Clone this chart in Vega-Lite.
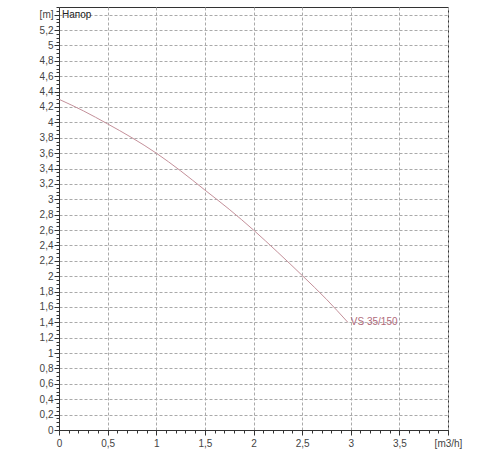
{
  "$schema": "https://vega.github.io/schema/vega-lite/v6.json",
  "width": 389,
  "height": 423,
  "autosize": "none",
  "padding": {"left": 59, "top": 7, "right": 52, "bottom": 20},
  "background": "white",
  "config": {
    "view": {"stroke": "#333", "strokeWidth": 1},
    "font": "Liberation Sans",
    "axis": {"labelFont": "Liberation Sans"}
  },
  "datasets": {
    "curve": [
      {"q": 0, "h": 4.3},
      {"q": 0.25, "h": 4.15},
      {"q": 0.5, "h": 3.98},
      {"q": 0.75, "h": 3.8},
      {"q": 1, "h": 3.6},
      {"q": 1.25, "h": 3.37},
      {"q": 1.5, "h": 3.12},
      {"q": 1.75, "h": 2.87},
      {"q": 2, "h": 2.6},
      {"q": 2.25, "h": 2.31},
      {"q": 2.5, "h": 2.01},
      {"q": 2.75, "h": 1.7},
      {"q": 2.97, "h": 1.4}
    ],
    "labels": [
      {"q": 0, "h": 5.4, "label": "Напор", "kind": "title"},
      {"q": 2.97, "h": 1.4, "label": "VS 35/150", "kind": "series"}
    ]
  },
  "layer": [
    {
      "data": {"name": "curve"},
      "mark": {"type": "line", "color": "#c4909a", "strokeWidth": 1, "interpolate": "monotone"},
      "encoding": {
        "x": {
          "field": "q", "type": "quantitative",
          "scale": {"domain": [0, 4], "nice": false, "zero": false},
          "axis": {
            "orient": "bottom", "title": null,
            "values": [0, 0.5, 1, 1.5, 2, 2.5, 3, 3.5, 4],
            "labelExpr": "datum.value >= 3.99 ? '[m3/h]' : replace(format(datum.value, '.1~f'), '.', ',')",
            "labelFontSize": 10, "labelColor": "#444", "labelPadding": 3,
            "tickSize": 5, "tickColor": "#333", "domainColor": "#333",
            "grid": true, "gridColor": "#aaa", "gridDash": [3, 2], "gridWidth": 1,
            "labelFlush": false, "labelOverlap": false
          }
        },
        "y": {
          "field": "h", "type": "quantitative",
          "scale": {"domain": [0, 5.5], "nice": false, "zero": false},
          "axis": {
            "orient": "left", "title": null,
            "values": [0, 0.2, 0.4, 0.6, 0.8, 1, 1.2, 1.4, 1.6, 1.8, 2, 2.2, 2.4, 2.6, 2.8, 3, 3.2, 3.4, 3.6, 3.8, 4, 4.2, 4.4, 4.6, 4.8, 5, 5.2, 5.4],
            "labelExpr": "datum.value > 5.35 ? '[m]' : replace(format(datum.value, '.1~f'), '.', ',')",
            "labelFontSize": 10, "labelColor": "#444", "labelPadding": 1,
            "tickSize": 5, "tickColor": "#333", "domainColor": "#333",
            "grid": true, "gridColor": "#aaa", "gridDash": [3, 2], "gridWidth": 1,
            "labelFlush": false, "labelOverlap": false
          }
        }
      }
    },
    {
      "data": {"name": "curve"},
      "mark": {"type": "line", "opacity": 0},
      "encoding": {
        "x": {
          "field": "q", "type": "quantitative",
          "scale": {"domain": [0, 4], "nice": false, "zero": false},
          "axis": {
            "orient": "bottom", "title": null, "labels": false, "grid": false, "domain": false,
            "tickSize": 3, "tickColor": "#333",
            "values": [0, 0.1, 0.2, 0.3, 0.4, 0.5, 0.6, 0.7, 0.8, 0.9, 1, 1.1, 1.2, 1.3, 1.4, 1.5, 1.6, 1.7, 1.8, 1.9, 2, 2.1, 2.2, 2.3, 2.4, 2.5, 2.6, 2.7, 2.8, 2.9, 3, 3.1, 3.2, 3.3, 3.4, 3.5, 3.6, 3.7, 3.8, 3.9, 4]
          }
        },
        "y": {
          "field": "h", "type": "quantitative",
          "scale": {"domain": [0, 5.5], "nice": false, "zero": false},
          "axis": {
            "orient": "left", "title": null, "labels": false, "grid": false, "domain": false,
            "tickSize": 3, "tickColor": "#333",
            "values": [0, 0.05, 0.1, 0.15, 0.2, 0.25, 0.3, 0.35, 0.4, 0.45, 0.5, 0.55, 0.6, 0.65, 0.7, 0.75, 0.8, 0.85, 0.9, 0.95, 1, 1.05, 1.1, 1.15, 1.2, 1.25, 1.3, 1.35, 1.4, 1.45, 1.5, 1.55, 1.6, 1.65, 1.7, 1.75, 1.8, 1.85, 1.9, 1.95, 2, 2.05, 2.1, 2.15, 2.2, 2.25, 2.3, 2.35, 2.4, 2.45, 2.5, 2.55, 2.6, 2.65, 2.7, 2.75, 2.8, 2.85, 2.9, 2.95, 3, 3.05, 3.1, 3.15, 3.2, 3.25, 3.3, 3.35, 3.4, 3.45, 3.5, 3.55, 3.6, 3.65, 3.7, 3.75, 3.8, 3.85, 3.9, 3.95, 4, 4.05, 4.1, 4.15, 4.2, 4.25, 4.3, 4.35, 4.4, 4.45, 4.5, 4.55, 4.6, 4.65, 4.7, 4.75, 4.8, 4.85, 4.9, 4.95, 5, 5.05, 5.1, 5.15, 5.2, 5.25, 5.3, 5.35, 5.4, 5.45, 5.5]
          }
        }
      }
    },
    {
      "data": {"name": "labels"},
      "mark": {"type": "text", "align": "left", "baseline": "middle", "dx": 3, "fontSize": 10, "font": "Liberation Sans"},
      "encoding": {
        "x": {"field": "q", "type": "quantitative", "axis": null},
        "y": {"field": "h", "type": "quantitative", "axis": null},
        "text": {"field": "label"},
        "color": {
          "field": "kind", "type": "nominal",
          "scale": {"domain": ["title", "series"], "range": ["#222222", "#b06a7a"]},
          "legend": null
        }
      }
    }
  ],
  "resolve": {"axis": {"x": "independent", "y": "independent"}}
}
